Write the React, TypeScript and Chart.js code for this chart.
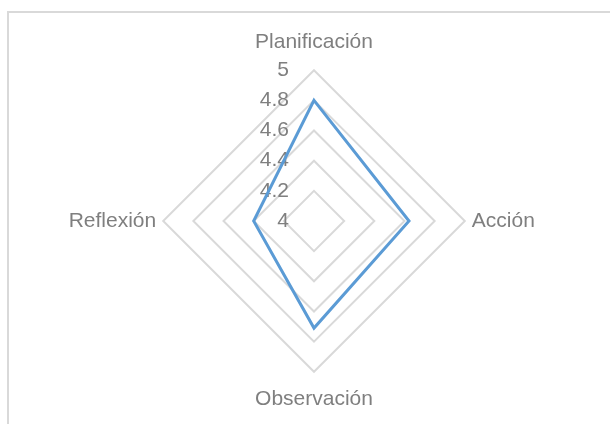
import React, { useEffect, useRef } from "react";
import { Chart, registerables } from "chart.js";

Chart.register(...registerables);

const categories = ["Planificación", "Acción", "Observación", "Reflexión"];
const values = [4.8, 4.63, 4.71, 4.4];
const tickValues = [4, 4.2, 4.4, 4.6, 4.8, 5];
const tickLabels = ["4", "4.2", "4.4", "4.6", "4.8", "5"];

const TEXT = "#7f7f7f";
const GRID = "#d9d9d9";
const LINE = "#5b9bd5";
const FONT = "'Liberation Sans', Arial, sans-serif";

const tickLabelPlugin = {
  id: "tickLabelsLeft",
  beforeDatasetsDraw(chart: any) {
    const s = chart.scales.r;
    const ctx = chart.ctx;
    ctx.save();
    ctx.font = `21px ${FONT}`;
    ctx.fillStyle = TEXT;
    ctx.textAlign = "right";
    ctx.textBaseline = "middle";
    tickValues.forEach((v, i) => {
      const d = s.getDistanceFromCenterForValue(v);
      ctx.fillText(tickLabels[i], s.xCenter - 25, s.yCenter - d);
    });
    ctx.restore();
  },
};

export default function App() {
  const ref = useRef<HTMLCanvasElement | null>(null);
  useEffect(() => {
    if (!ref.current) return;
    const chart = new Chart(ref.current, {
      type: "radar",
      data: {
        labels: categories,
        datasets: [
          {
            data: values,
            borderColor: LINE,
            borderWidth: 3,
            fill: false,
            pointRadius: 0,
            pointHoverRadius: 0,
            tension: 0,
          },
        ],
      },
      options: {
        animation: false,
        responsive: true,
        maintainAspectRatio: false,
        layout: { padding: { top: 30, bottom: 11, left: 19, right: 0 } },
        plugins: { legend: { display: false }, tooltip: { enabled: false } },
        scales: {
          r: {
            min: 4,
            max: 5,
            ticks: { stepSize: 0.2, display: false },
            angleLines: { display: false },
            grid: { color: GRID, lineWidth: 2, circular: false },
            pointLabels: {
              color: TEXT,
              font: { family: FONT, size: 21 },
              padding: (c: any) => (c.index % 2 === 0 ? 15 : 7),
            },
          },
        },
      },
      plugins: [tickLabelPlugin],
    });
    return () => chart.destroy();
  }, []);

  return (
    <>
      <div
        style={{
          position: "fixed",
          left: 7,
          top: 11,
          width: 700,
          height: 500,
          border: `2px solid ${GRID}`,
          boxSizing: "border-box",
        }}
      />
      <div style={{ position: "fixed", left: 0, top: 0, width: 610, height: 424 }}>
        <canvas ref={ref} />
      </div>
    </>
  );
}
